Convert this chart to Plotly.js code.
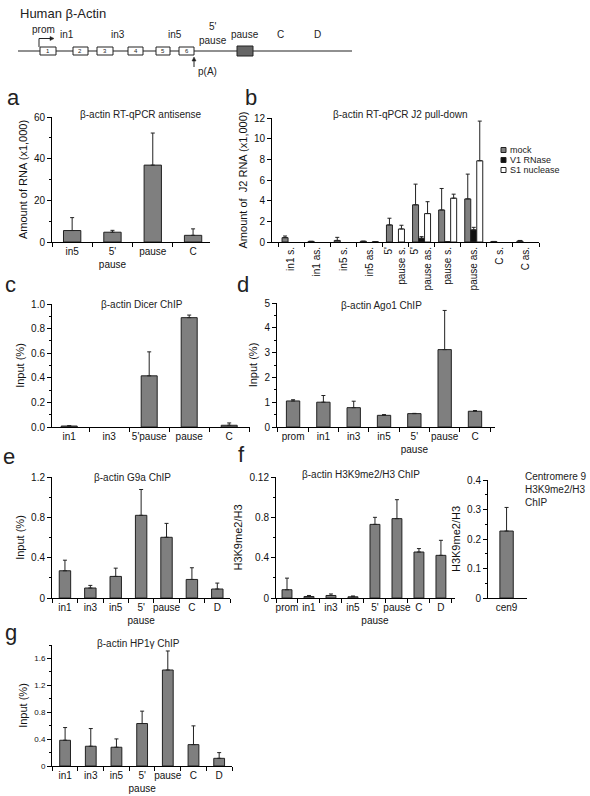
<!DOCTYPE html>
<html><head><meta charset="utf-8">
<script src="https://cdn.plot.ly/plotly-3.0.1.min.js"></script>
<style>html,body{margin:0;padding:0;background:#fff;}#chart{width:590px;height:796px;}</style>
</head><body><div id="chart"></div>
<script>
// ---------- DATA ----------
// a: RT-qPCR antisense
const aCats = ['in5', "5'<br>pause", 'pause', 'C'];
const aVals = [5.5, 4.7, 36.9, 3.2];
const aErr  = [6.2, 0.9, 15.4, 3.1];
// b: RT-qPCR J2 pull-down
const bCats = ['in1 s.', 'in1 as.', 'in5 s.', 'in5 as.', "5'<br>pause s.", "5'<br>pause as.", 'pause s.', 'pause as.', 'C s.', 'C as.'];
const bSeriesNames = ['mock', 'V1 RNase', 'S1 nuclease'];
const bMock    = [0.42, 0.06, 0.15, 0.07, 1.65, 3.6, 3.1, 4.17, 0.05, 0.1];
const bMockErr = [0.16, null, 0.3, null, 0.65, 2.0, 2.08, 2.4, null, 0.05];
const bV1      = [null, null, null, null, null, 0.36, 0.02, 1.17, null, null];
const bV1Err   = [null, null, null, null, null, 0.16, null, 0.25, null, null];
const bS1      = [null, null, null, 0.03, 1.26, 2.75, 4.24, 7.86, null, null];
const bS1Err   = [null, null, null, null, 0.36, 1.15, 0.39, 3.84, null, null];
// c: Dicer ChIP
const cCats = ['in1', 'in3', "5'pause", 'pause', 'C'];
const cVals = [0.008, null, 0.416, 0.889, 0.014];
const cErr  = [0.003, null, 0.195, 0.021, 0.019];
// d: Ago1 ChIP
const dCats = ['prom', 'in1', 'in3', 'in5', "5'<br>pause", 'pause', 'C'];
const dVals = [1.05, 1.0, 0.78, 0.47, 0.54, 3.12, 0.635];
const dErr  = [0.05, 0.27, 0.26, 0.03, 0.01, 1.58, 0.03];
// e: G9a ChIP
const eCats = ['in1', 'in3', 'in5', "5'<br>pause", 'pause', 'C', 'D'];
const eVals = [0.27, 0.099, 0.214, 0.82, 0.602, 0.184, 0.089];
const eErr  = [0.105, 0.026, 0.082, 0.256, 0.138, 0.116, 0.059];
// f: H3K9me2/H3 ChIP
const fCats = ['prom', 'in1', 'in3', 'in5', "5'<br>pause", 'pause', 'C', 'D'];
const fVals = [0.0082, 0.0015, 0.0025, 0.0012, 0.073, 0.0787, 0.0456, 0.0423];
const fErr  = [0.0115, 0.001, 0.0015, 0.0008, 0.007, 0.0188, 0.0034, 0.0149];
const fTickVals = [0, 0.04, 0.08, 0.12];
const fTickText = ['0', '0.4', '0.8', '0.12'];
// f (right): Centromere 9
const cenCats = ['cen9'];
const cenVals = [0.227];
const cenErr  = [0.08];
// g: HP1γ ChIP
const gCats = ['in1', 'in3', 'in5', "5'<br>pause", 'pause', 'C', 'D'];
const gVals = [0.383, 0.294, 0.279, 0.632, 1.428, 0.318, 0.114];
const gErr  = [0.189, 0.263, 0.124, 0.184, 0.283, 0.279, 0.085];
// gene diagram
const exonNames = ['1', '2', '3', '4', '5', '6'];
const exonStart = [40, 73, 97, 128, 156, 179];
const exonEnd   = [56, 88, 113, 143, 170, 194];
const regionNames = ['in1', 'in3', 'in5', 'pause', 'C', 'D'];
const regionPos   = [67, 118, 175, 245, 280, 317];

// ---------- HELPERS ----------
const W = 590, H = 796;
const FONT = 'Liberation Sans, Arial, sans-serif';
const px = x => x / W, py = y => 1 - y / H;
const dx = (l, r) => [l / W, r / W];
const dy = (t, b) => [1 - b / H, 1 - t / H];
const GRAY = '#7f7f7f', EDGE = '#222';

function xAxis(l, r, range, anchor, extra) {
  return Object.assign({
    domain: dx(l, r), range: range, anchor: anchor, type: 'category',
    tickson: 'boundaries', ticks: 'outside', ticklen: 4, tickwidth: 1, tickcolor: '#000',
    showline: true, linecolor: '#000', linewidth: 1, showgrid: false, zeroline: false,
    tickangle: 0, tickfont: {size: 10, color: '#111'}, fixedrange: true
  }, extra || {});
}
function yAxis(t, b, range, dtick, minor, anchor, title, extra) {
  return Object.assign({
    domain: dy(t, b), range: range, anchor: anchor, tick0: 0, dtick: dtick,
    ticks: 'outside', ticklen: 4, tickwidth: 1, tickcolor: '#000',
    minor: {dtick: minor, ticks: 'outside', ticklen: 2, tickcolor: '#000', showgrid: false},
    showline: true, linecolor: '#000', linewidth: 1, showgrid: false, zeroline: false,
    tickfont: {size: 10, color: '#111'}, fixedrange: true,
    title: {text: title, font: {size: 11, color: '#111'}, standoff: 4}
  }, extra || {});
}
function errs(arr) {
  return {type: 'data', symmetric: false, array: arr, arrayminus: arr.map(v => v == null ? null : 0),
          color: '#222', thickness: 1, width: 2};
}
function bar(cats, vals, err, xa, ya, w, color, extra) {
  return Object.assign({
    type: 'bar', x: cats, y: vals, xaxis: xa, yaxis: ya, width: w,
    marker: {color: color || GRAY, line: {color: EDGE, width: 1}},
    error_y: errs(err), showlegend: false, hoverinfo: 'skip'
  }, extra || {});
}

// ---------- TRACES ----------
const bw = 0.23;
const traces = [
  bar(aCats, aVals, aErr, 'x', 'y', 0.43),
  bar(bCats, bMock, bMockErr, 'x2', 'y2', bw, GRAY, {offset: -0.345, name: bSeriesNames[0]}),
  bar(bCats, bV1, bV1Err, 'x2', 'y2', bw, '#111', {offset: -0.115, name: bSeriesNames[1]}),
  bar(bCats, bS1, bS1Err, 'x2', 'y2', bw, '#fff', {offset: 0.115, name: bSeriesNames[2]}),
  bar(cCats, cVals, cErr, 'x3', 'y3', 0.4),
  bar(dCats, dVals, dErr, 'x4', 'y4', 0.44),
  bar(eCats, eVals, eErr, 'x5', 'y5', 0.45),
  bar(fCats, fVals, fErr, 'x6', 'y6', 0.45),
  bar(cenCats, cenVals, cenErr, 'x7', 'y7', 0.36),
  bar(gCats, gVals, gErr, 'x8', 'y8', 0.42)
];

// ---------- ANNOTATIONS ----------
const ann = [];
function txt(x, y, text, size, extra) {
  ann.push(Object.assign({xref: 'paper', yref: 'paper', x: px(x), y: py(y), text: text, showarrow: false,
    xanchor: 'center', yanchor: 'middle', font: {size: size, color: '#222', family: FONT}}, extra || {}));
}
// panel letters
[['a', 13, 97], ['b', 251, 97], ['c', 10, 284], ['d', 243, 284], ['e', 9, 456], ['f', 241, 454], ['g', 11, 632]]
  .forEach(l => txt(l[1], l[2], l[0], 22));
// panel titles
txt(141, 114, 'β-actin RT-qPCR antisense', 10);
txt(400, 115, 'β-actin RT-qPCR J2 pull-down', 10);
txt(142, 304, 'β-actin Dicer ChIP', 10);
txt(381, 305, 'β-actin Ago1 ChIP', 10);
txt(132, 477, 'β-actin G9a ChIP', 10);
txt(361, 475, 'β-actin H3K9me2/H3 ChIP', 10);
txt(138, 643, 'β-actin HP1γ ChIP', 10);
txt(523, 489, 'Centromere 9<br>H3K9me2/H3<br>ChIP', 10, {xanchor: 'left', align: 'left'});
// manual legend for b
const legColors = [GRAY, '#111', '#fff'];
const shapes = [];
bSeriesNames.forEach((n, i) => {
  const yc = 150 + i * 10;
  shapes.push({type: 'rect', xref: 'paper', yref: 'paper', x0: px(501), x1: px(506), y0: py(yc + 2.5), y1: py(yc - 2.5),
    fillcolor: legColors[i], line: {color: '#222', width: 1}});
  txt(508, yc, n, 9, {xanchor: 'left'});
});

// gene diagram
txt(18, 13, 'Human β-Actin', 13, {xanchor: 'left'});
shapes.push({type: 'line', xref: 'paper', yref: 'paper', x0: px(18), x1: px(352), y0: py(51), y1: py(51), line: {color: '#222', width: 1.2}});
exonNames.forEach((n, i) => {
  shapes.push({type: 'rect', xref: 'paper', yref: 'paper', x0: px(exonStart[i]), x1: px(exonEnd[i]), y0: py(55), y1: py(47),
    fillcolor: '#fff', line: {color: '#222', width: 1}});
  txt((exonStart[i] + exonEnd[i]) / 2, 51, n, 6);
});
shapes.push({type: 'rect', xref: 'paper', yref: 'paper', x0: px(237), x1: px(253), y0: py(56), y1: py(46),
  fillcolor: '#666', line: {color: '#222', width: 1}});
regionNames.forEach((n, i) => txt(regionPos[i], 34, n, 10));
txt(43, 30, 'prom', 10);
txt(213, 27, "5'", 10);
txt(213, 41, 'pause', 10);
txt(207, 72, 'p(A)', 10);
// promoter arrow
shapes.push({type: 'path', xref: 'paper', yref: 'paper',
  path: `M${px(39)},${py(47)} L${px(39)},${py(38.5)} L${px(50)},${py(38.5)}`, line: {color: '#222', width: 1}});
shapes.push({type: 'path', xref: 'paper', yref: 'paper',
  path: `M${px(50)},${py(36.5)} L${px(54)},${py(38.5)} L${px(50)},${py(40.5)} Z`, fillcolor: '#222', line: {color: '#222', width: 0.5}});
// p(A) arrow
shapes.push({type: 'line', xref: 'paper', yref: 'paper', x0: px(194), x1: px(194), y0: py(67), y1: py(60), line: {color: '#222', width: 1}});
shapes.push({type: 'path', xref: 'paper', yref: 'paper',
  path: `M${px(192)},${py(61)} L${px(194)},${py(57)} L${px(196)},${py(61)} Z`, fillcolor: '#222', line: {color: '#222', width: 0.5}});

// ---------- LAYOUT ----------
const layout = {
  width: W, height: H, margin: {l: 0, r: 0, t: 0, b: 0},
  paper_bgcolor: '#fff', plot_bgcolor: 'rgba(0,0,0,0)',
  font: {family: FONT, color: '#111', size: 10},
  showlegend: false, barmode: 'group',
  xaxis:  xAxis(52, 210, [-0.5, 3.42], 'y'),
  yaxis:  yAxis(117, 242, [0, 60], 20, 10, 'x', 'Amount of RNA (x1,000)'),
  xaxis2: xAxis(272, 539, [-0.73, 9.5], 'y2', {tickangle: -90}),
  yaxis2: yAxis(118, 242, [0, 12], 2, 1, 'x2', 'Amount of  J2 RNA (x1,000)', {minor: {ticks: ''}}),
  xaxis3: xAxis(52, 250, [-0.43, 4.52], 'y3'),
  yaxis3: yAxis(304, 427, [0, 1.0], 0.2, 0.1, 'x3', 'Input (%)', {tickformat: '.1f'}),
  xaxis4: xAxis(277, 495, [-0.53, 6.66], 'y4'),
  yaxis4: yAxis(303, 427, [0, 5], 1, 0.5, 'x4', 'Input (%)'),
  xaxis5: xAxis(52, 230, [-0.51, 6.5], 'y5'),
  yaxis5: yAxis(477, 598, [0, 1.2], 0.4, 0.2, 'x5', 'Input (%)'),
  xaxis6: xAxis(276, 455, [-0.5, 7.64], 'y6'),
  yaxis6: yAxis(477, 598, [0, 0.12], 0.04, 0.02, 'x6', 'H3K9me2/H3', {tickmode: 'array', tickvals: fTickVals, ticktext: fTickText}),
  xaxis7: xAxis(488, 527, [-0.5, 0.55], 'y7', {ticks: ''}),
  yaxis7: yAxis(480, 598, [0, 0.4], 0.1, 0.05, 'x7', 'H3K9me2/H3'),
  xaxis8: xAxis(52, 232, [-0.51, 6.5], 'y8'),
  yaxis8: yAxis(645, 766, [0, 1.8], 0.4, 0.2, 'x8', 'Input (%)', {tickfont: {size: 8, color: '#111'}}),
  annotations: ann, shapes: shapes
};
Plotly.newPlot('chart', traces, layout, {staticPlot: true, displayModeBar: false});
</script></body></html>
